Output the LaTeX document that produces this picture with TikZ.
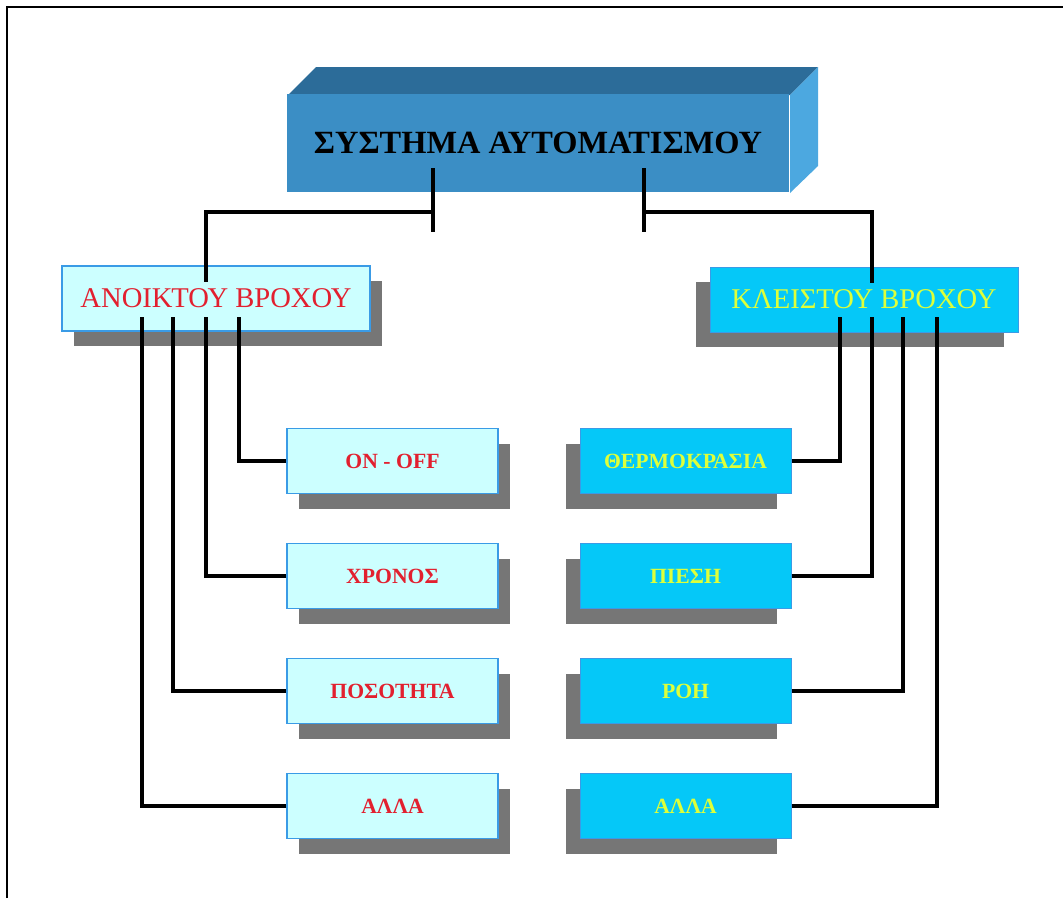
\documentclass[tikz,border=0pt]{standalone}
\usepackage{fontspec}
\setmainfont{Liberation Serif}
\usetikzlibrary{shadows}

\definecolor{paleCyan}{HTML}{CCFFFF}
\definecolor{brightCyan}{HTML}{05C8F8}
\definecolor{edgeBlue}{HTML}{3A9BE6}
\definecolor{shGray}{HTML}{767676}
\definecolor{redText}{HTML}{E2202F}
\definecolor{yelText}{HTML}{DDFF3A}
\definecolor{frontBlue}{HTML}{3B8EC5}
\definecolor{topBlue}{HTML}{2C6C99}
\definecolor{sideBlue}{HTML}{4CA8E0}

\tikzset{
  frameline/.style={line width=2.4pt, black},
  conn/.style={line width=3.3pt, black, line cap=butt, line join=miter},
  shadowright/.style={drop shadow={shadow xshift=12pt, shadow yshift=-15pt, opacity=1, fill=shGray}},
  shadowleft/.style={drop shadow={shadow xshift=-14pt, shadow yshift=-15pt, opacity=1, fill=shGray}},
  openbox/.style={draw=edgeBlue, line width=1.3pt, fill=paleCyan, text=redText, inner sep=0pt},
  closedbox/.style={draw=edgeBlue, line width=1pt, fill=brightCyan, text=yelText, inner sep=0pt},
  headbox/.style={minimum width=308pt, minimum height=65pt, font=\fontsize{28.6}{32}\selectfont},
  itembox/.style={minimum width=211pt, minimum height=65pt, font=\fontsize{21.7}{24}\selectfont\bfseries},
}

\begin{document}
\begin{tikzpicture}[x=1pt, y=-1pt]
\useasboundingbox (0,0) rectangle (1063,898);
\fill[white] (0,0) rectangle (1063,898);
\draw[frameline] (7,898) -- (7,7) -- (1063,7);

% three-dimensional title block
\fill[topBlue] (288,95) -- (316,67) -- (818,67) -- (790,95) -- cycle;
\fill[sideBlue] (790,95) -- (818,67) -- (818,166) -- (790,193) -- cycle;
\node[fill=frontBlue, minimum width=502pt, minimum height=98pt, inner sep=0pt,
      font=\fontsize{32.4}{36}\selectfont\bfseries] (sys) at (538,143) {ΣΥΣΤΗΜΑ ΑΥΤΟΜΑΤΙΣΜΟΥ};

% the two main branches
\node[openbox, headbox, shadowright] (open) at (216,298.5) {ΑΝΟΙΚΤΟΥ ΒΡΟΧΟΥ};
\node[closedbox, headbox, shadowleft] (closed) at (864,299.5) {ΚΛΕΙΣΤΟΥ ΒΡΟΧΟΥ};

% open-loop items
\node[openbox, itembox, shadowright] (onoff) at (392.5,461) {ON - OFF};
\node[openbox, itembox, shadowright] (time) at (392.5,576) {ΧΡΟΝΟΣ};
\node[openbox, itembox, shadowright] (qty) at (392.5,691) {ΠΟΣΟΤΗΤΑ};
\node[openbox, itembox, shadowright] (otherA) at (392.5,806) {ΑΛΛΑ};

% closed-loop items
\node[closedbox, itembox, shadowleft] (temp) at (685.5,461) {ΘΕΡΜΟΚΡΑΣΙΑ};
\node[closedbox, itembox, shadowleft] (press) at (685.5,576) {ΠΙΕΣΗ};
\node[closedbox, itembox, shadowleft] (flow) at (685.5,691) {ΡΟΗ};
\node[closedbox, itembox, shadowleft] (otherB) at (685.5,806) {ΑΛΛΑ};

% tie points
\coordinate (sysL) at (433,168);
\coordinate (sysLb) at (433,232);
\coordinate (sysLj) at (433,212);
\coordinate (sysR) at (644,168);
\coordinate (sysRb) at (644,232);
\coordinate (sysRj) at (644,212);
\coordinate (openTop) at (206,282);
\coordinate (closedTop) at (872,283);
\coordinate (o1) at (239,317);
\coordinate (o2) at (206,317);
\coordinate (o3) at (173,317);
\coordinate (o4) at (142,317);
\coordinate (c1) at (840,317);
\coordinate (c2) at (872,317);
\coordinate (c3) at (903,317);
\coordinate (c4) at (937,317);

% connectors
\draw[conn] (sysL) -- (sysLb);
\draw[conn] (sysR) -- (sysRb);
\draw[conn] (sysLj) -| (openTop);
\draw[conn] (sysRj) -| (closedTop);

\draw[conn] (onoff.west) -| (o1);
\draw[conn] (time.west) -| (o2);
\draw[conn] (qty.west) -| (o3);
\draw[conn] (otherA.west) -| (o4);

\draw[conn] (temp.east) -| (c1);
\draw[conn] (press.east) -| (c2);
\draw[conn] (flow.east) -| (c3);
\draw[conn] (otherB.east) -| (c4);
\end{tikzpicture}
\end{document}
